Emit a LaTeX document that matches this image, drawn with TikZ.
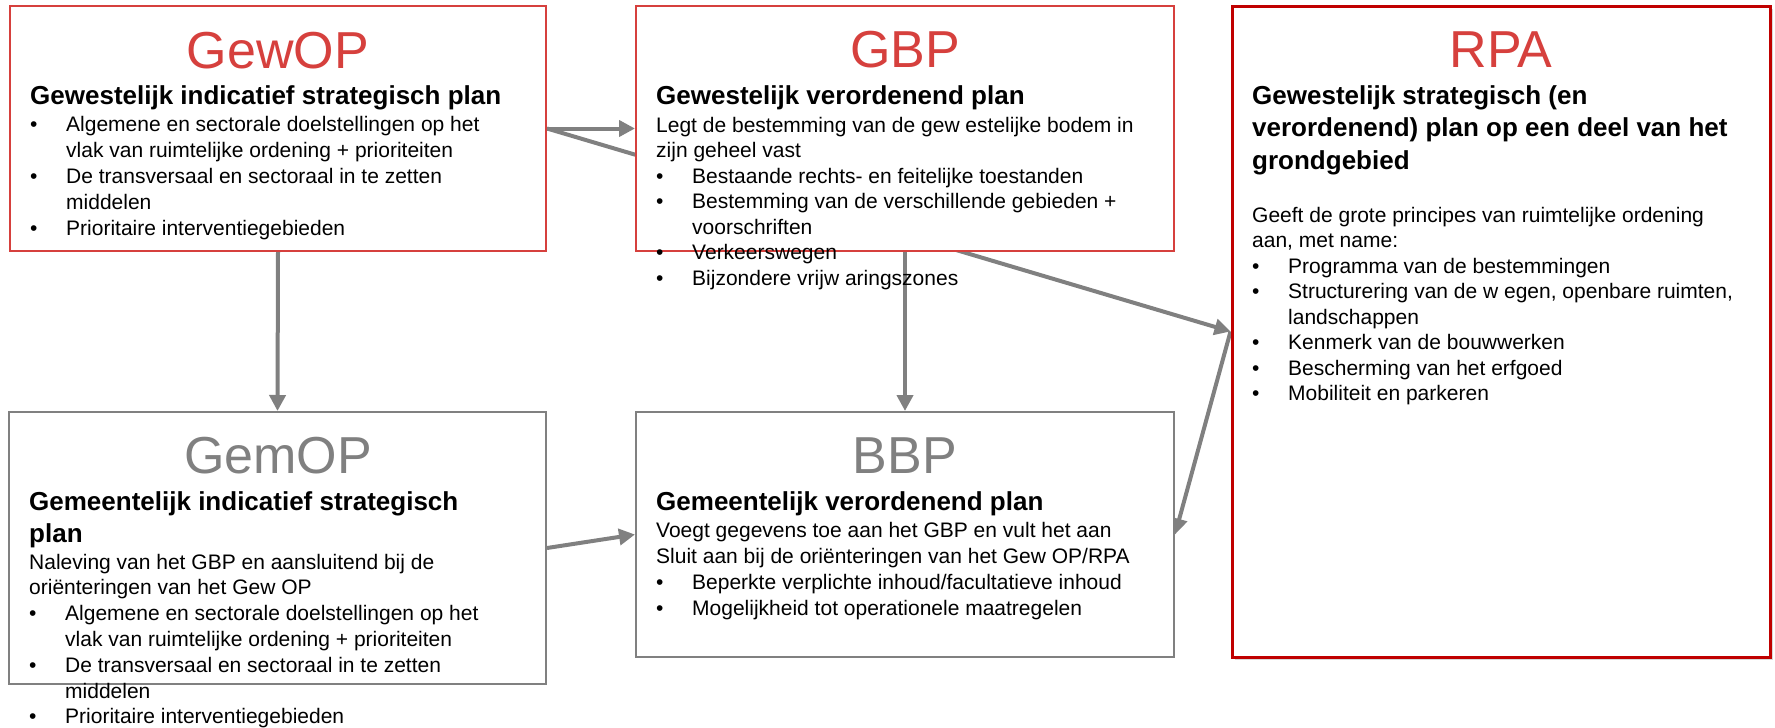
\documentclass[tikz,border=0pt]{standalone}
\usepackage{fontspec}
\setmainfont{Liberation Sans}
\usetikzlibrary{arrows.meta,shadows,backgrounds}
\definecolor{tred}{RGB}{214,64,61}
\definecolor{dred}{RGB}{192,0,0}
\definecolor{tgray}{RGB}{128,128,128}
\newcommand\blk[3]{\begin{minipage}[t]{#1}#2\raggedright\parindent=0pt\parskip=0pt\relax #3\end{minipage}}
\newcommand\bitem[1]{\par\hangindent=36pt\hangafter=1\noindent\makebox[36pt][l]{•}#1\par}
\newcommand\bodyfont[1]{\fontsize{21}{#1}\selectfont}
\newcommand\subfont{\bfseries\fontsize{26}{32.5}\selectfont}
\tikzset{
  pbox/.style={draw, fill=white, inner sep=0pt},
  redbox/.style={pbox, draw=tred, line width=2pt},
  graybox/.style={pbox, draw=tgray, line width=2pt},
  rpabox/.style={pbox, draw=dred, line width=3pt,
    drop shadow={shadow xshift=3pt, shadow yshift=-3pt, opacity=0.15, fill=black}},
  ttl/.style={anchor=base, inner sep=0pt, font=\fontsize{52}{52}\selectfont},
  txtblk/.style={anchor=base west, inner sep=0pt},
  conn/.style={draw=tgray, line width=4pt, -{Triangle[length=16pt,width=16pt]}},
}
\begin{document}
\begin{tikzpicture}[x=1pt,y=-1pt]
\useasboundingbox (0,0) rectangle (1775,728);
% boxes
\node[redbox, minimum width=536pt, minimum height=245pt] (gewop) at (278,128.5) {};
\node[redbox, minimum width=538pt, minimum height=245pt] (gbp) at (905,128.5) {};
\node[rpabox, minimum width=538pt, minimum height=651pt] (rpa) at (1501,331.5) {};
\node[graybox, minimum width=537pt, minimum height=272pt] (gemop) at (277.5,548) {};
\node[graybox, minimum width=538pt, minimum height=245pt] (bbp) at (905,534.5) {};
% connectors
\begin{scope}[on background layer]
\draw[conn] (gewop.east) -- (gbp.west);
\draw[conn] (gewop.east) -- (rpa.west);
\draw[conn] (gewop.south) -- (gemop.north);
\draw[conn] (gbp.south) -- (bbp.north);
\draw[conn] (gemop.east) -- (bbp.west);
\draw[conn] (rpa.west) -- (bbp.east);
\end{scope}
% GewOP
\node[ttl, text=tred] (gewopT) at (278,68) {GewOP};
\node[txtblk] (gewopS) at (30,104) {\blk{515pt}{\subfont}{Gewestelijk indicatief strategisch plan}};
\node[txtblk] (gewopB) at (30,131) {\blk{515pt}{\bodyfont{26}}{%
\bitem{Algemene en sectorale doelstellingen op het\newline vlak van ruimtelijke ordening + prioriteiten}%
\bitem{De transversaal en sectoraal in te zetten\newline middelen}%
\bitem{Prioritaire interventiegebieden}}};
% GBP
\node[ttl, text=tred] (gbpT) at (905,67) {GBP};
\node[txtblk] (gbpS) at (656,104) {\blk{515pt}{\subfont}{Gewestelijk verordenend plan}};
\node[txtblk] (gbpB) at (656,132) {\blk{515pt}{\bodyfont{25.5}}{%
Legt de bestemming van de gew estelijke bodem in\newline zijn geheel vast\par
\bitem{Bestaande rechts- en feitelijke toestanden}%
\bitem{Bestemming van de verschillende gebieden +\newline voorschriften}%
\bitem{Verkeerswegen}%
\bitem{Bijzondere vrijw aringszones}}};
% RPA
\node[ttl, text=tred] (rpaT) at (1501,67) {RPA};
\node[txtblk] (rpaS) at (1252,104) {\blk{515pt}{\subfont}{Gewestelijk strategisch (en\newline verordenend) plan op een deel van het\newline grondgebied}};
\node[txtblk] (rpaB) at (1252,222) {\blk{515pt}{\bodyfont{25.5}}{%
Geeft de grote principes van ruimtelijke ordening\newline aan, met name:\par
\bitem{Programma van de bestemmingen}%
\bitem{Structurering van de w egen, openbare ruimten,\newline landschappen}%
\bitem{Kenmerk van de bouwwerken}%
\bitem{Bescherming van het erfgoed}%
\bitem{Mobiliteit en parkeren}}};
% GemOP
\node[ttl, text=tgray] (gemopT) at (278,473) {GemOP};
\node[txtblk] (gemopS) at (29,510) {\blk{515pt}{\subfont}{Gemeentelijk indicatief strategisch\newline plan}};
\node[txtblk] (gemopB) at (29,569) {\blk{515pt}{\bodyfont{25.8}}{%
Naleving van het GBP en aansluitend bij de\newline oriënteringen van het Gew OP\par
\bitem{Algemene en sectorale doelstellingen op het\newline vlak van ruimtelijke ordening + prioriteiten}%
\bitem{De transversaal en sectoraal in te zetten\newline middelen}%
\bitem{Prioritaire interventiegebieden}}};
% BBP
\node[ttl, text=tgray] (bbpT) at (905,473) {BBP};
\node[txtblk] (bbpS) at (656,510) {\blk{515pt}{\subfont}{Gemeentelijk verordenend plan}};
\node[txtblk] (bbpB) at (656,537) {\blk{515pt}{\bodyfont{26}}{%
Voegt gegevens toe aan het GBP en vult het aan\newline Sluit aan bij de oriënteringen van het Gew OP/RPA\par
\bitem{Beperkte verplichte inhoud/facultatieve inhoud}%
\bitem{Mogelijkheid tot operationele maatregelen}}};
\end{tikzpicture}
\end{document}
